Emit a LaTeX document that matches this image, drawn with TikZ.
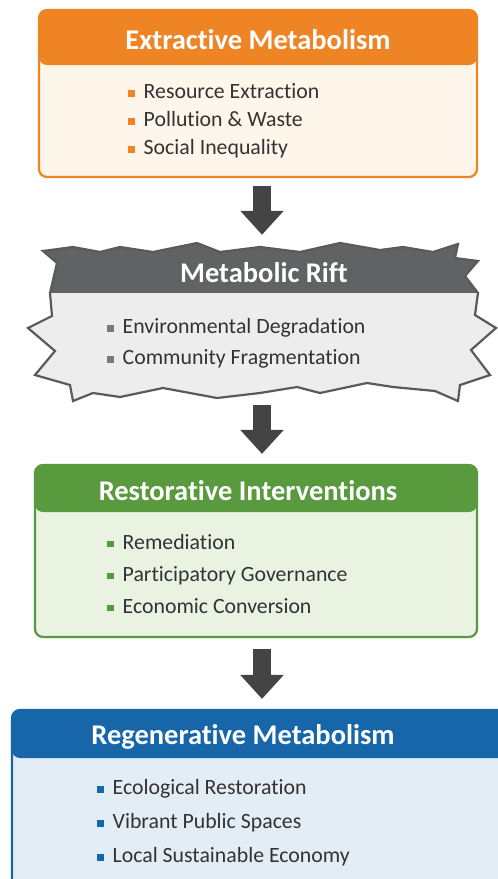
\documentclass[tikz,border=0pt]{standalone}
\usepackage{fontspec}
\setmainfont{Carlito}[Ligatures=NoCommon]
\usetikzlibrary{arrows.meta,positioning}
\definecolor{oline}{HTML}{EF8424}
\definecolor{ofill}{HTML}{FEF6EA}
\definecolor{ghead}{HTML}{616264}
\definecolor{gline}{HTML}{5A5A5C}
\definecolor{gfill}{HTML}{EDEDEE}
\definecolor{gbul}{HTML}{7A7A7A}
\definecolor{vline}{HTML}{5A9A3E}
\definecolor{vfill}{HTML}{EAF3E2}
\definecolor{bline}{HTML}{1766AA}
\definecolor{bfill}{HTML}{E3EDF6}
\definecolor{txt}{HTML}{333333}
\definecolor{arr}{HTML}{444444}
\newcommand{\bul}[1]{\textcolor{#1}{\rule[2.2pt]{6.5pt}{6.5pt}}\hspace{9pt}}
\tikzset{
 panel/.style n args={3}{draw=#1,fill=#2,line width=2.2pt,rounded corners=8pt,inner sep=0pt,
   path picture={\fill[#1] (path picture bounding box.north west) rectangle
     ([yshift=-#3]path picture bounding box.north east);}},
 headtxt/.style={text=white,font=\fontsize{28.5pt}{32pt}\selectfont\bfseries,inner sep=0pt},
 listtxt/.style={text=txt,font=\fontsize{21.8pt}{#1}\selectfont,align=left,inner sep=0pt,anchor=west},
 bigarrow/.style={draw=arr,line width=18pt,-{Triangle[length=24pt,width=42pt]}}
}
% jagged outline of the rift
\def\riftpath{(43,251) -- (73,247) -- (100,252) -- (120,247) -- (153,252) -- (197,243) -- (220,252)
 -- (260,247) -- (300,252) -- (340,243) -- (380,250) -- (403,247) -- (433,252) -- (458,244)
 -- (455,258) -- (478,261) -- (465,276) -- (478,293) -- (475,315) -- (496,328) -- (471,350)
 -- (490,375) -- (460,385) -- (458,401) -- (435,391) -- (393,387) -- (367,383) -- (320,393)
 -- (297,387) -- (260,393) -- (217,398) -- (163,388) -- (120,397) -- (93,393) -- (73,401)
 -- (70,385) -- (35,375) -- (55,351) -- (28,328) -- (52,316) -- (50,293) -- (57,263) -- cycle}

\begin{document}
\begin{tikzpicture}[x=1pt,y=-1pt]
 \useasboundingbox (0,0) rectangle (498,879);
 \clip (0,0) rectangle (498,879);

 % extractive
 \node[panel={oline}{ofill}{55pt},minimum width=438pt,minimum height=167pt] (extr) at (258,93.5) {};
 \node[headtxt,below=3pt of extr.north,minimum height=55pt] (extrtitle) {Extractive Metabolism};
 \node[listtxt=28pt] (extrlist) at (128,121)
   {\bul{oline}Resource Extraction\\\bul{oline}Pollution \& Waste\\\bul{oline}Social Inequality};

 % rift
 \node[inner sep=0pt,minimum width=468pt,minimum height=158pt] (rift) at (262,322) {};
 \begin{scope}
  \clip \riftpath;
  \fill[gfill] (0,240) rectangle (498,410);
  \fill[ghead] (0,240) rectangle (498,293);
 \end{scope}
 \draw[gline,line width=2.2pt] \riftpath;
 \node[headtxt] (rifttitle) at (264,273) {Metabolic Rift};
 \node[listtxt=31pt] (riftlist) at (107,343.5)
   {\bul{gbul}Environmental Degradation\\\bul{gbul}Community Fragmentation};

 % restorative
 \node[panel={vline}{vfill}{47pt},minimum width=442pt,minimum height=172pt] (restor) at (256,551) {};
 \node[headtxt] (restortitle) at (248,491) {Restorative Interventions};
 \node[listtxt=32pt] (restorlist) at (107,574)
   {\bul{vline}Remediation\\\bul{vline}Participatory Governance\\\bul{vline}Economic Conversion};

 % regenerative
 \node[panel={bline}{bfill}{48pt},minimum width=518pt,minimum height=200pt] (regen) at (271,810) {};
 \node[headtxt] (regentitle) at (243,737) {Regenerative Metabolism};
 \node[listtxt=34pt] (regenlist) at (97,823)
   {\bul{bline}Ecological Restoration\\\bul{bline}Vibrant Public Spaces\\\bul{bline}Local Sustainable Economy};

 % flow
 \draw[bigarrow,shorten <=8pt,shorten >=8pt] (extr.south -| rift.north) -- (rift.north);
 \draw[bigarrow,shorten <=4pt,shorten >=10pt] (rift.south) -- (rift.south |- restor.north);
 \draw[bigarrow,shorten <=11pt,shorten >=10pt] (restor.south -| rift.south) -- (rift.south |- regen.north);
\end{tikzpicture}
\end{document}
